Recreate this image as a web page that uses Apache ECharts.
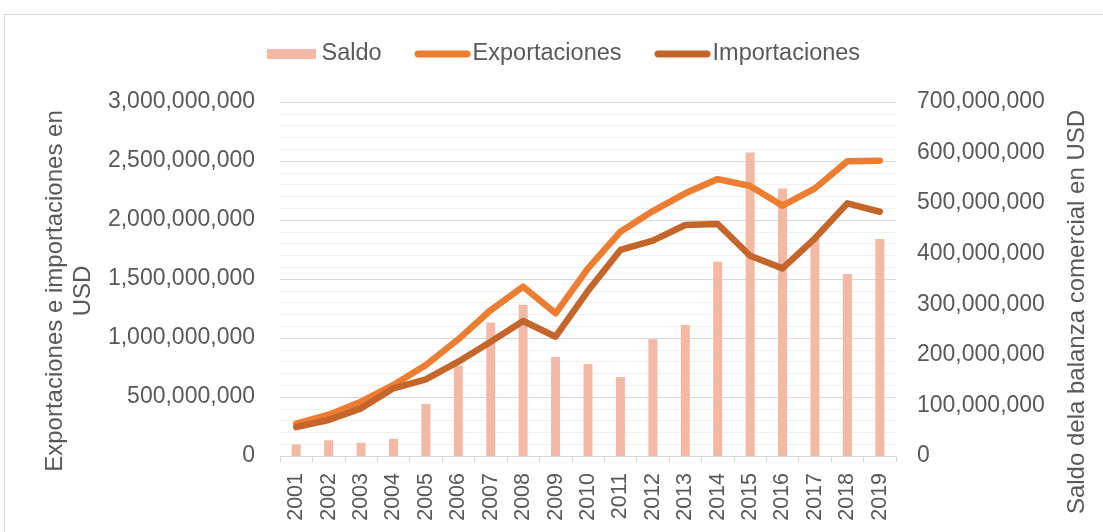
<!DOCTYPE html>
<html>
<head>
<meta charset="utf-8">
<script src="https://cdn.jsdelivr.net/npm/echarts@6/dist/echarts.min.js"></script>
<style>
  html, body { margin: 0; padding: 0; background: #fff; }
  #main { width: 1103px; height: 532px; }
</style>
</head>
<body>
<div id="main"></div>
<script>
// años
var years = ["2001", "2002", "2003", "2004", "2005", "2006", "2007", "2008", "2009", "2010",
  "2011", "2012", "2013", "2014", "2015", "2016", "2017", "2018", "2019"];
// saldo (eje derecho)
var saldo = [23e6, 31e6, 26e6, 34e6, 103e6, 179e6, 264e6, 299e6, 196e6, 182e6,
  156e6, 231e6, 259e6, 384e6, 600e6, 529e6, 430e6, 360e6, 429e6];
// exportaciones (eje izquierdo)
var exportaciones = [275e6, 350e6, 460e6, 602e6, 771e6, 989e6, 1237e6, 1435e6, 1209e6, 1590e6,
  1901e6, 2076e6, 2226e6, 2347e6, 2288e6, 2121e6, 2268e6, 2498e6, 2503e6];
// importaciones (eje izquierdo)
var importaciones = [245e6, 305e6, 404e6, 574e6, 650e6, 799e6, 969e6, 1144e6, 1011e6, 1400e6,
  1746e6, 1825e6, 1958e6, 1966e6, 1697e6, 1590e6, 1845e6, 2141e6, 2070e6];

var textColor = "#595959";
var font = "Liberation Sans";
var cSaldo = "#F4B9A5", cExp = "#ED7D31", cImp = "#C4652A";

// iconos de la leyenda (barra redondeada para las líneas)
var lineIcon = "path://M3.5,0 L53.5,0 A3.5,3.5 0 0 1 53.5,7 L3.5,7 A3.5,3.5 0 0 1 3.5,0 Z";
var rectIcon = "path://M0,0 L49,0 L49,10 L0,10 Z";

function fmt(v) {
  return String(Math.round(v)).replace(/\B(?=(\d{3})+(?!\d))/g, ",");
}

var myChart = echarts.init(document.getElementById("main"));
var option = {
  animation: false,
  textStyle: { fontFamily: font },
  graphic: [{
    type: "rect",
    shape: { x: 4.5, y: 14.5, width: 1110, height: 530 },
    style: { fill: "none", stroke: "#D9D9D9", lineWidth: 1 },
    silent: true
  }],
  legend: {
    top: 37,
    left: 262,
    itemGap: 33,
    itemWidth: 56,
    itemHeight: 10,
    symbolKeepAspect: true,
    textStyle: { fontSize: 23.5, color: textColor, fontFamily: font, padding: [0, 0, 0, -3] },
    data: [
      { name: "Saldo", icon: rectIcon, itemStyle: { color: cSaldo } },
      { name: "Exportaciones", icon: lineIcon, itemStyle: { color: cExp } },
      { name: "Importaciones", icon: lineIcon, itemStyle: { color: cImp } }
    ]
  },
  grid: { left: 280, right: 207, top: 102, bottom: 76 },
  xAxis: {
    type: "category",
    data: years,
    boundaryGap: true,
    axisLine: { lineStyle: { color: "#D9D9D9", width: 1 } },
    axisTick: { show: true, length: 6, lineStyle: { color: "#D9D9D9" } },
    axisLabel: { rotate: 90, fontSize: 21.5, color: textColor, margin: 17, fontFamily: font }
  },
  yAxis: [
    {
      type: "value",
      min: 0,
      max: 3000000000,
      interval: 500000000,
      name: "Exportaciones e importaciones en\nUSD",
      nameLocation: "middle",
      nameGap: 179,
      nameRotate: 90,
      nameTextStyle: { fontSize: 24, color: textColor, lineHeight: 28, fontFamily: font, padding: [0, 24, 0, 0] },
      axisLine: { show: false },
      axisTick: { show: false },
      axisLabel: { fontSize: 23, color: textColor, margin: 25, formatter: fmt, fontFamily: font },
      splitLine: { show: true, lineStyle: { color: "#D9D9D9", width: 1 } },
      minorTick: { show: false, splitNumber: 5 },
      minorSplitLine: { show: true, lineStyle: { color: "#F0F0F0", width: 1 } }
    },
    {
      type: "value",
      min: 0,
      max: 700000000,
      interval: 100000000,
      position: "right",
      name: "Saldo dela balanza comercial en USD",
      nameLocation: "middle",
      nameGap: 169,
      nameRotate: 90,
      nameTextStyle: { fontSize: 24, color: textColor, fontFamily: font, padding: [0, 66, 0, 0] },
      axisLine: { show: false },
      axisTick: { show: false },
      axisLabel: { fontSize: 23, color: textColor, margin: 21, formatter: fmt, fontFamily: font },
      splitLine: { show: false }
    }
  ],
  series: [
    {
      name: "Saldo",
      type: "bar",
      yAxisIndex: 1,
      data: saldo,
      barWidth: 9,
      itemStyle: { color: cSaldo },
      z: 1
    },
    {
      name: "Exportaciones",
      type: "line",
      yAxisIndex: 0,
      data: exportaciones,
      symbol: "none",
      itemStyle: { color: cExp },
      lineStyle: { color: cExp, width: 6.5, cap: "round", join: "round" },
      z: 3
    },
    {
      name: "Importaciones",
      type: "line",
      yAxisIndex: 0,
      data: importaciones,
      symbol: "none",
      itemStyle: { color: cImp },
      lineStyle: { color: cImp, width: 6.5, cap: "round", join: "round" },
      z: 4
    }
  ]
};
myChart.setOption(option);
</script>
</body>
</html>
